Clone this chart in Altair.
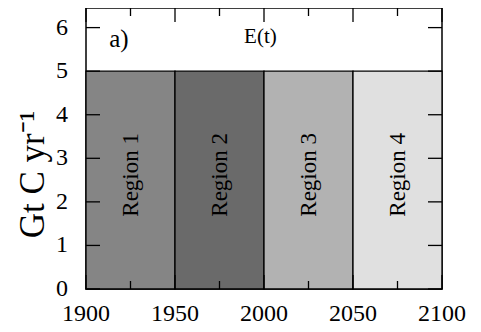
import altair as alt
import pandas as pd

# ---- data ----
regions = ["Region 1", "Region 2", "Region 3", "Region 4"]
starts = [1900, 1950, 2000, 2050]
ends = [1950, 2000, 2050, 2100]
emission = [5, 5, 5, 5]
fills = ["#858585", "#6a6a6a", "#b2b2b2", "#e0e0e0"]
label_y = [2.62, 2.62, 2.62, 2.62]

x_major = [1900, 1950, 2000, 2050, 2100]
x_minor = [1925, 1975, 2025, 2075]
y_major = [0, 1, 2, 3, 4, 5, 6]

annot_text = ["a)", "E(t)"]
annot_x = [1918.5, 1998]
annot_y = [5.73, 5.78]
annot_size = [25, 21]

W, H = 356, 281
FONT = "Liberation Serif"

xs = alt.Scale(domain=[1900, 2100], nice=False, zero=False)
ys = alt.Scale(domain=[0, 6.45], nice=False)

reg = pd.DataFrame({"region": regions, "start": starts, "end": ends,
                    "E": emission, "ly": label_y})
reg["mid"] = (reg["start"] + reg["end"]) / 2

rects = alt.Chart(reg).mark_rect(stroke="black", strokeWidth=1.3).encode(
    x=alt.X("start:Q", scale=xs, axis=None),
    x2="end:Q",
    y=alt.Y("E:Q", scale=ys, axis=alt.Axis(values=y_major, labels=False,
                                           title="Gt C yr\u207b\u00b9")),
    y2=alt.datum(0),
    fill=alt.Fill("region:N", scale=alt.Scale(domain=regions, range=fills), legend=None),
)

labels = alt.Chart(reg).mark_text(angle=270, font=FONT, fontSize=23, color="black",
                                  align="center", baseline="middle").encode(
    x=alt.X("mid:Q", scale=xs), y=alt.Y("ly:Q", scale=ys), text="region:N")

ann = pd.DataFrame({"t": annot_text, "x": annot_x, "y": annot_y, "s": annot_size})
annots = alt.Chart(ann).mark_text(font=FONT, color="black", align="center",
                                  baseline="middle").encode(
    x=alt.X("x:Q", scale=xs), y=alt.Y("y:Q", scale=ys),
    text="t:N", size=alt.Size("s:Q", scale=None, legend=None))

xmaj = pd.DataFrame({"x": x_major})
xmin = pd.DataFrame({"x": x_minor})
ymaj = pd.DataFrame({"y": y_major})
tk = dict(color="black", strokeWidth=1.3)
XA = lambda: alt.X("x:Q", scale=xs)
YA = lambda: alt.Y("y:Q", scale=ys)

ticks = [
    alt.Chart(xmaj).mark_rule(**tk).encode(x=XA(), y=alt.value(H), y2=alt.value(H - 14)),
    alt.Chart(xmaj).mark_rule(**tk).encode(x=XA(), y=alt.value(0), y2=alt.value(14)),
    alt.Chart(xmin).mark_rule(**tk).encode(x=XA(), y=alt.value(H), y2=alt.value(H - 8)),
    alt.Chart(xmin).mark_rule(**tk).encode(x=XA(), y=alt.value(0), y2=alt.value(8)),
    alt.Chart(ymaj).mark_rule(**tk).encode(y=YA(), x=alt.value(0), x2=alt.value(14)),
    alt.Chart(ymaj).mark_rule(**tk).encode(y=YA(), x=alt.value(W), x2=alt.value(W - 14)),
]

# tick labels as serif text drawn through the scales
xlab = alt.Chart(xmaj).mark_text(font=FONT, fontSize=24, color="black", align="center",
                                 baseline="middle").encode(
    x=XA(), y=alt.value(H + 25), text=alt.Text("x:Q", format="d"))
ylab = alt.Chart(ymaj).mark_text(font=FONT, fontSize=24, color="black", align="right",
                                 baseline="middle").encode(
    y=YA(), x=alt.value(-18), text=alt.Text("y:Q", format="d"))

chart = alt.layer(rects, labels, annots, *ticks, xlab, ylab).properties(
    width=W, height=H,
    autosize=alt.AutoSizeParams(type="none"),
    padding={"left": 78, "top": 0, "right": 30, "bottom": 40},
    background="white",
).configure(font=FONT).configure_view(stroke="black", strokeWidth=1.5).configure_axis(
    titleFont=FONT, titleFontWeight="normal", titleColor="black",
    domain=False, ticks=False, grid=False,
).configure_axisY(titleFontSize=35, titlePadding=36, titleY=166)

chart.save("out.html", embed_options={"renderer": "svg", "actions": False})
